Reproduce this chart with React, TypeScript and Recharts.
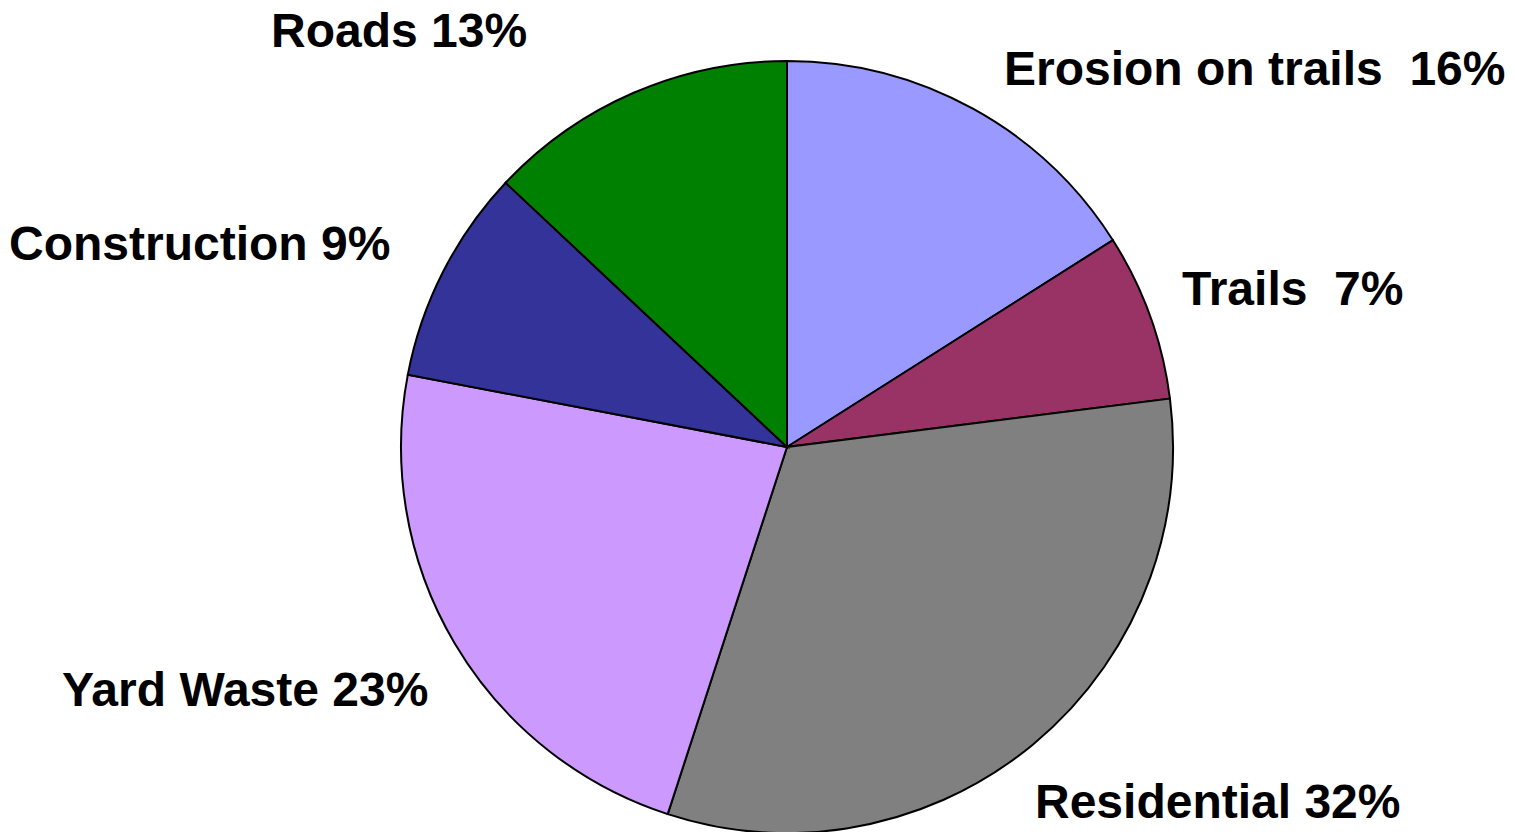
import React from "react";
import { PieChart, Pie, Cell } from "recharts";

const categories = ["Erosion on trails", "Trails", "Residential", "Yard Waste", "Construction", "Roads"];
const shares = [16, 7, 32, 23, 9, 13];
const labelTexts = ["Erosion on trails  16%", "Trails  7%", "Residential 32%", "Yard Waste 23%", "Construction 9%", "Roads 13%"];
const colors = ["#9999FF", "#993366", "#808080", "#CC99FF", "#333399", "#008000"];

// label placement (left x, baseline y) in chart pixels
const labelLayout = [
  { x: 1004, y: 85 },
  { x: 1182, y: 305 },
  { x: 1035, y: 818 },
  { x: 62, y: 706 },
  { x: 9, y: 260 },
  { x: 271, y: 47 },
];

const data = categories.map((name, i) => ({ name, value: shares[i], label: labelTexts[i] }));

const renderLabel = (props: any) => {
  const i = props.index;
  const pos = labelLayout[i];
  return (
    <text
      key={`lbl-${i}`}
      x={pos.x}
      y={pos.y}
      textAnchor="start"
      fill="#000"
      style={{ fontFamily: "'Liberation Sans', Arial, sans-serif", fontWeight: 700, fontSize: 48, whiteSpace: "pre" }}
      xmlSpace="preserve"
    >
      {data[i].label}
    </text>
  );
};

export default function App() {
  return (
    <div style={{ position: "absolute", left: 0, top: 0, width: 1515, height: 832, background: "#fff" }}>
      <PieChart width={1515} height={832} margin={{ top: 0, right: 0, bottom: 0, left: 0 }}>
        <Pie
          data={data}
          dataKey="value"
          nameKey="name"
          cx={787}
          cy={447}
          outerRadius={386}
          startAngle={90}
          endAngle={-270}
          stroke="#000"
          strokeWidth={2}
          label={renderLabel}
          labelLine={false}
          isAnimationActive={false}
        >
          {data.map((d, i) => (
            <Cell key={d.name} fill={colors[i]} />
          ))}
        </Pie>
      </PieChart>
    </div>
  );
}
